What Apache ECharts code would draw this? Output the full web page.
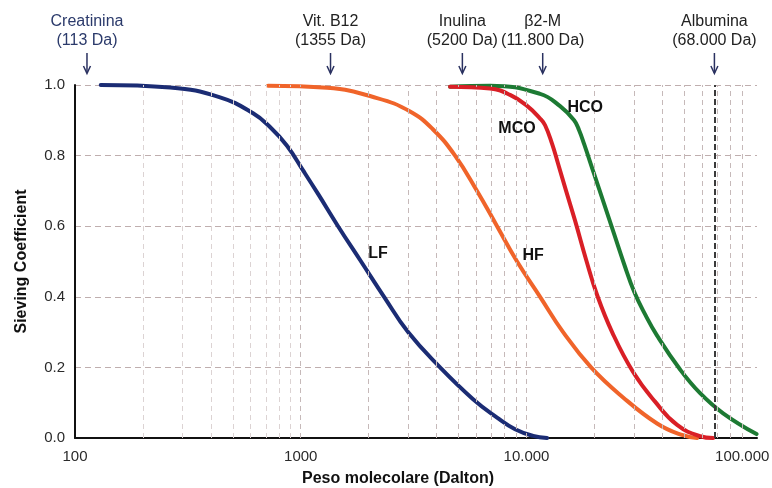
<!DOCTYPE html>
<html><head><meta charset="utf-8">
<script src="https://cdn.jsdelivr.net/npm/echarts@6/dist/echarts.min.js"></script>
<style>html,body{margin:0;padding:0;background:#fff}#c{width:772px;height:488px}</style>
</head><body><div id="c"></div>
<script>
// ---- data ----
const xTickValues = [100, 1000, 10000, 100000];
const xTickLabels = ['100', '1000', '10.000', '100.000'];
const yTickLabels = ['0.0', '0.2', '0.4', '0.6', '0.8', '1.0'];

const lfMW = [130, 264, 439, 615, 731, 869, 1024, 1197, 1463, 1850, 2340, 2988, 4142, 5800, 7407, 8903, 10696, 12338];
const lfSC = [1.0, 0.993, 0.965, 0.92, 0.881, 0.828, 0.758, 0.69, 0.6, 0.5, 0.4, 0.3, 0.2, 0.11, 0.058, 0.025, 0.006, 0.0];

const hfMW = [716, 1308, 2178, 3050, 3857, 4826, 6040, 7407, 9085, 11489, 14530, 19330, 26792, 37890, 47920, 57000];
const hfSC = [0.998, 0.992, 0.963, 0.925, 0.874, 0.8, 0.7, 0.6, 0.5, 0.4, 0.3, 0.2, 0.115, 0.041, 0.01, 0.0];

const mcoMW = [4586, 6896, 8460, 10062, 11489, 12090, 12988, 13804, 14980, 16427, 18375, 20552, 23950, 29670, 37130, 46490, 58760, 67120];
const mcoSC = [0.995, 0.99, 0.972, 0.941, 0.905, 0.886, 0.833, 0.777, 0.70, 0.615, 0.505, 0.405, 0.30, 0.187, 0.103, 0.037, 0.005, 0.0];

const hcoMW = [4586, 6896, 11489, 14091, 16253, 17105, 17996, 19929, 22073, 24438, 27064, 29967, 33540, 37890, 47920, 58760, 74330, 104500];
const hcoSC = [0.995, 0.998, 0.975, 0.94, 0.90, 0.872, 0.833, 0.748, 0.663, 0.578, 0.493, 0.415, 0.35, 0.29, 0.194, 0.127, 0.070, 0.011];

const markerNames = ['Creatinina', 'Vit. B12', 'Inulina', 'β2-M', 'Albumina'];
const markerSubs = ['(113 Da)', '(1355 Da)', '(5200 Da)', '(11.800 Da)', '(68.000 Da)'];
const markerMW = [113, 1355, 5200, 11800, 68000];

const gridMW = [200, 300, 400, 500, 600, 700, 800, 900, 1000,
  2000, 3000, 4000, 5000, 6000, 7000, 8000, 9000, 10000,
  20000, 30000, 40000, 50000, 60000, 70000, 80000, 90000];

const curveNames = ['LF', 'HF', 'MCO', 'HCO'];
const curveLabelMW = [2200, 10700, 9080, 18200];
const curveLabelSC = [0.523, 0.518, 0.877, 0.937];

// ---- chart ----
const zip = (a, b) => a.map((v, i) => [v, b[i]]);
const chart = echarts.init(document.getElementById('c'), null, { renderer: 'canvas' });
const FONT = '"Liberation Sans", Arial, Helvetica, sans-serif';

function tickIndex(v) {
  for (let i = 0; i < xTickValues.length; i++) {
    if (Math.abs(v - xTickValues[i]) / xTickValues[i] < 1e-6) return i;
  }
  return -1;
}

const gridLineData = gridMW.map(v => ({
  xAxis: v,
  lineStyle: { color: v < 1000 ? '#dcd3d3' : '#c6b9b9', type: [5, 4], width: 1 }
}));
gridLineData.push({ xAxis: markerMW[4], lineStyle: { color: '#3a3a3a', type: [6, 3], width: 2 } });

const curveStyle = [
  { name: curveNames[0], color: '#1b2c74', data: zip(lfMW, lfSC), z: 3 },
  { name: curveNames[1], color: '#f0642a', data: zip(hfMW, hfSC), z: 3 },
  { name: curveNames[3], color: '#1d7a33', data: zip(hcoMW, hcoSC), z: 3 },
  { name: curveNames[2], color: '#d91f26', data: zip(mcoMW, mcoSC), z: 4 }
];

const option = {
  backgroundColor: '#ffffff',
  animation: false,
  grid: { left: 75, right: 15, top: 85, bottom: 50, containLabel: false, outerBoundsMode: 'none' },
  xAxis: {
    type: 'log', logBase: 10, min: 100, max: 105000,
    name: 'Peso molecolare (Dalton)', nameLocation: 'middle', nameGap: 33,
    nameTextStyle: { fontFamily: FONT, fontWeight: 'bold', fontSize: 16, color: '#111', padding: [0, 36, 0, 0] },
    axisLine: { show: true, lineStyle: { color: '#111', width: 2 } },
    axisTick: { show: false },
    splitLine: { show: false },
    minorTick: { show: false },
    axisLabel: {
      fontFamily: FONT, fontSize: 15, color: '#2a2a2a', margin: 11,
      showMinLabel: true, showMaxLabel: true,
      formatter: function (v) {
        const i = tickIndex(v);
        if (i < 0) return '';
        if (i === xTickValues.length - 1) return '{last|' + xTickLabels[i] + '}';
        return xTickLabels[i];
      },
      rich: { last: { fontFamily: FONT, fontSize: 15, color: '#2a2a2a', padding: [0, 20, 0, 0] } }
    }
  },
  yAxis: {
    type: 'value', min: 0, max: 1, interval: 0.2,
    name: 'Sieving Coefficient', nameLocation: 'middle', nameGap: 45, nameRotate: 90,
    nameTextStyle: { fontFamily: FONT, fontWeight: 'bold', fontSize: 16, color: '#111' },
    axisLine: { show: true, lineStyle: { color: '#111', width: 2 } },
    axisTick: { show: false },
    axisLabel: {
      fontFamily: FONT, fontSize: 15, color: '#2a2a2a', margin: 10,
      formatter: function (v) { return yTickLabels[Math.round(v / 0.2)]; }
    },
    splitLine: { show: true, lineStyle: { color: '#bfaeae', type: [6, 4], width: 1 } }
  },
  series: [
    {
      type: 'line', name: 'grid', data: [], z: 1, silent: true,
      markLine: {
        silent: true, symbol: ['none', 'none'], label: { show: false },
        animation: false, data: gridLineData
      }
    }
  ].concat(curveStyle.map(c => ({
    type: 'line', name: c.name, data: c.data, z: c.z,
    smooth: 0.45, showSymbol: false, silent: true,
    lineStyle: { color: c.color, width: 4, cap: 'round', join: 'round' },
    itemStyle: { color: c.color }
  })))
};
chart.setOption(option);

// ---- annotations placed through the axes ----
const graphics = [];
const toX = v => chart.convertToPixel({ xAxisIndex: 0 }, v);
const toPt = (x, y) => chart.convertToPixel({ gridIndex: 0 }, [x, y]);
markerMW.forEach((mw, i) => {
  const x = toX(mw);
  const col = i === 0 ? '#2b3a6b' : '#222222';
  graphics.push({
    type: 'text', x: x, y: 22, silent: true,
    style: { text: markerNames[i], font: '16px ' + FONT, fill: col, align: 'center', verticalAlign: 'middle' }
  });
  graphics.push({
    type: 'text', x: x, y: 41, silent: true,
    style: { text: markerSubs[i], font: '16px ' + FONT, fill: col, align: 'center', verticalAlign: 'middle' }
  });
  graphics.push({
    type: 'line', silent: true,
    shape: { x1: x, y1: 53, x2: x, y2: 73 },
    style: { stroke: '#2a3160', lineWidth: 1.5 }
  });
  graphics.push({
    type: 'polyline', silent: true,
    shape: { points: [[x - 3.5, 66], [x, 73.5], [x + 3.5, 66]] },
    style: { stroke: '#2a3160', lineWidth: 1.5, fill: null }
  });
});
curveNames.forEach((n, i) => {
  const p = toPt(curveLabelMW[i], curveLabelSC[i]);
  graphics.push({
    type: 'text', x: p[0], y: p[1], silent: true, z: 10,
    style: { text: n, font: 'bold 16px ' + FONT, fill: '#111', align: 'center', verticalAlign: 'middle' }
  });
});
chart.setOption({ graphic: graphics });
</script>
</body></html>
